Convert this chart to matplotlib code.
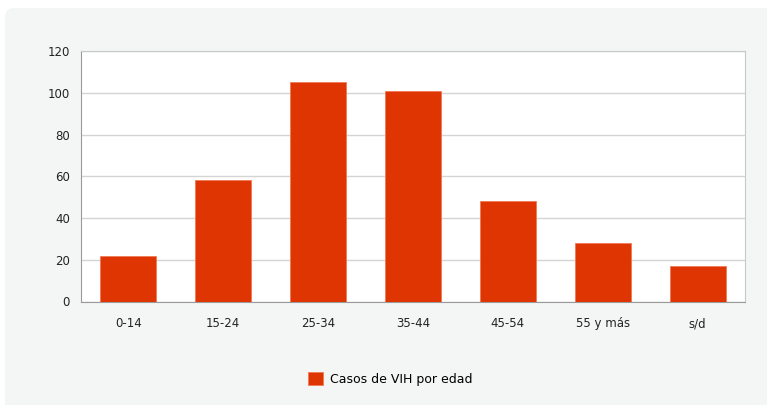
import matplotlib
matplotlib.use("Agg")
import matplotlib.pyplot as plt
from matplotlib.patches import FancyBboxPatch, Rectangle, Patch

categories = ["0-14", "15-24", "25-34", "35-44", "45-54", "55 y más", "s/d"]
values = [22, 58, 105, 101, 48, 28, 17]
yticks = [0, 20, 40, 60, 80, 100, 120]
series_name = "Casos de VIH por edad"

W, H = 769, 405
fig = plt.figure(figsize=(W / 100, H / 100), dpi=100)
fig.patch.set_facecolor("white")

bg = "#f4f6f5"
px = fig.dpi_scale_trans.inverted()
# Panel: rounded top-left corner only
rounded = FancyBboxPatch((5, 0), 762, 397, boxstyle="round,pad=0,rounding_size=9",
                         transform=None, facecolor=bg, edgecolor="none", zorder=-10)
fig.patches.append(rounded)
fig.patches.append(Rectangle((200, 0), 567, 397, transform=None, facecolor=bg,
                             edgecolor="none", zorder=-10))
fig.patches.append(Rectangle((5, 0), 762, 200, transform=None, facecolor=bg,
                             edgecolor="none", zorder=-10))

ax = fig.add_axes([81 / W, (H - 301.5) / H, 664 / W, 250.5 / H])
ax.set_zorder(1)
ax.set_facecolor("white")
x = range(len(categories))
ax.bar(x, values, width=0.59, color="#de3502", edgecolor="#f07a55",
       linewidth=0.6, zorder=3)
ax.set_xlim(-0.5, len(categories) - 0.5)
ax.set_ylim(0, 120)
ax.set_yticks(yticks)
ax.set_xticks(list(x))
ax.set_xticklabels(categories)
ax.grid(axis="y", color="#d4d4d4", linewidth=1.0, zorder=0)
ax.set_axisbelow(True)
ax.tick_params(axis="both", length=0, labelsize=8.5, colors="#222222")
ax.tick_params(axis="x", pad=11.5)
ax.tick_params(axis="y", pad=8)
for s in ["left", "bottom"]:
    ax.spines[s].set_color("#9a9a9a")
for s in ["top", "right"]:
    ax.spines[s].set_color("#c8c8c8")

handle = Patch(facecolor="#de3502", edgecolor="#f07a55", linewidth=0.6)
fig.legend([handle], [series_name], loc="center", bbox_to_anchor=(390 / W, 1 - 379 / H),
           frameon=False, fontsize=9, handlelength=1.2, handleheight=1.2,
           handletextpad=0.55)

fig.savefig("out.png", dpi=100, facecolor="white")
